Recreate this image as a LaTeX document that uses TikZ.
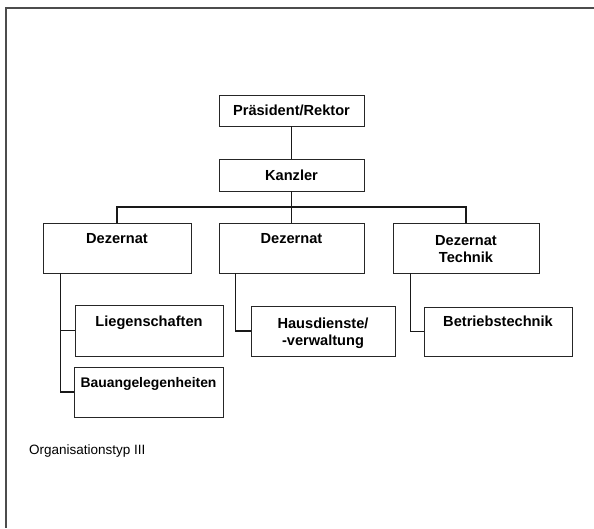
\documentclass[tikz,border=0pt]{standalone}
\usepackage{fontspec}
\setmainfont{Liberation Sans}
\begin{document}
\begin{tikzpicture}[x=1pt,y=-1pt,
  orgbox/.style={draw=black!85,line width=0.9pt,inner sep=0pt,
    minimum width=#1,minimum height=50pt},
  orgbox/.default=148pt,
  boxtext/.style={anchor=base,inner sep=0pt,align=center,
    font=\fontsize{14.6}{17}\selectfont\bfseries},
  link/.style={line width=1.2pt,black!90},
  frame/.style={line width=1.4pt,black!70}]
\useasboundingbox (0,0) rectangle (594,528);
% page frame: top and left edge only
\draw[frame] (594,8) -- (6,8) -- (6,528);

% top of the hierarchy
\node[orgbox=145pt,minimum height=31pt] (praes) at (291.5,110.5) {};
\node[boxtext,anchor=center] (praesT) at (praes.center) {Präsident/Rektor};
\node[orgbox=145pt,minimum height=32pt] (kanzler) at (291.5,175) {};
\node[boxtext,anchor=center] (kanzlerT) at (kanzler.center) {Kanzler};

% the three departments
\node[orgbox=148pt] (dz1) at (117,248) {};
\node[orgbox=145pt] (dz2) at (291.5,248) {};
\node[orgbox=146pt] (dz3) at (466,248) {};
\node[boxtext] (dz1T) at ([yshift=-21pt]dz1.north) {Dezernat};
\node[boxtext] (dz2T) at ([yshift=-21pt]dz2.north) {Dezernat};
\node[boxtext,anchor=center,text depth=0pt] (dz3T) at ([yshift=-1pt]dz3.center) {Dezernat\\Technik};

% sub-units
\node[orgbox=148pt,minimum height=51pt] (lieg) at (149,330.5) {};
\node[orgbox=149pt] (bau) at (148.5,392) {};
\node[orgbox=144pt] (haus) at (323,331) {};
\node[orgbox=148pt,minimum height=49pt] (betr) at (498,331.5) {};
\node[boxtext] (liegT) at ([yshift=-22pt]lieg.north) {Liegenschaften};
\node[boxtext,font=\fontsize{13.9}{17}\selectfont\bfseries] (bauT) at ([yshift=-21pt]bau.north) {Bauangelegenheiten};
\node[boxtext,anchor=center,text depth=0pt] (hausT) at ([yshift=-1pt]haus.center) {Hausdienste/\\-verwaltung};
\node[boxtext] (betrT) at ([yshift=-20pt]betr.north) {Betriebstechnik};

% connectors
\coordinate (bar) at (291.5,207);
\draw[link] (praes.south) -- (kanzler.north);
\draw[link] (kanzler.south) -- (bar);
\draw[link] (dz1.north) |- (bar) -| (dz3.north);
\draw[link] (bar) -- (dz2.north);

\coordinate (v1) at ([xshift=18pt]dz1.south west);
\draw[link] (v1) |- (bau.west);
\draw[link] (v1 |- lieg.west) -- (lieg.west);
\coordinate (v2) at ([xshift=17pt]dz2.south west);
\draw[link] (v2) |- (haus.west);
\coordinate (v3) at ([xshift=18pt]dz3.south west);
\draw[link] (v3) |- (betr.west);

% caption
\node[anchor=base west,inner sep=0pt,font=\fontsize{13.5}{16}\selectfont]
  (caption) at (29,454) {Organisationstyp III};
\end{tikzpicture}
\end{document}
